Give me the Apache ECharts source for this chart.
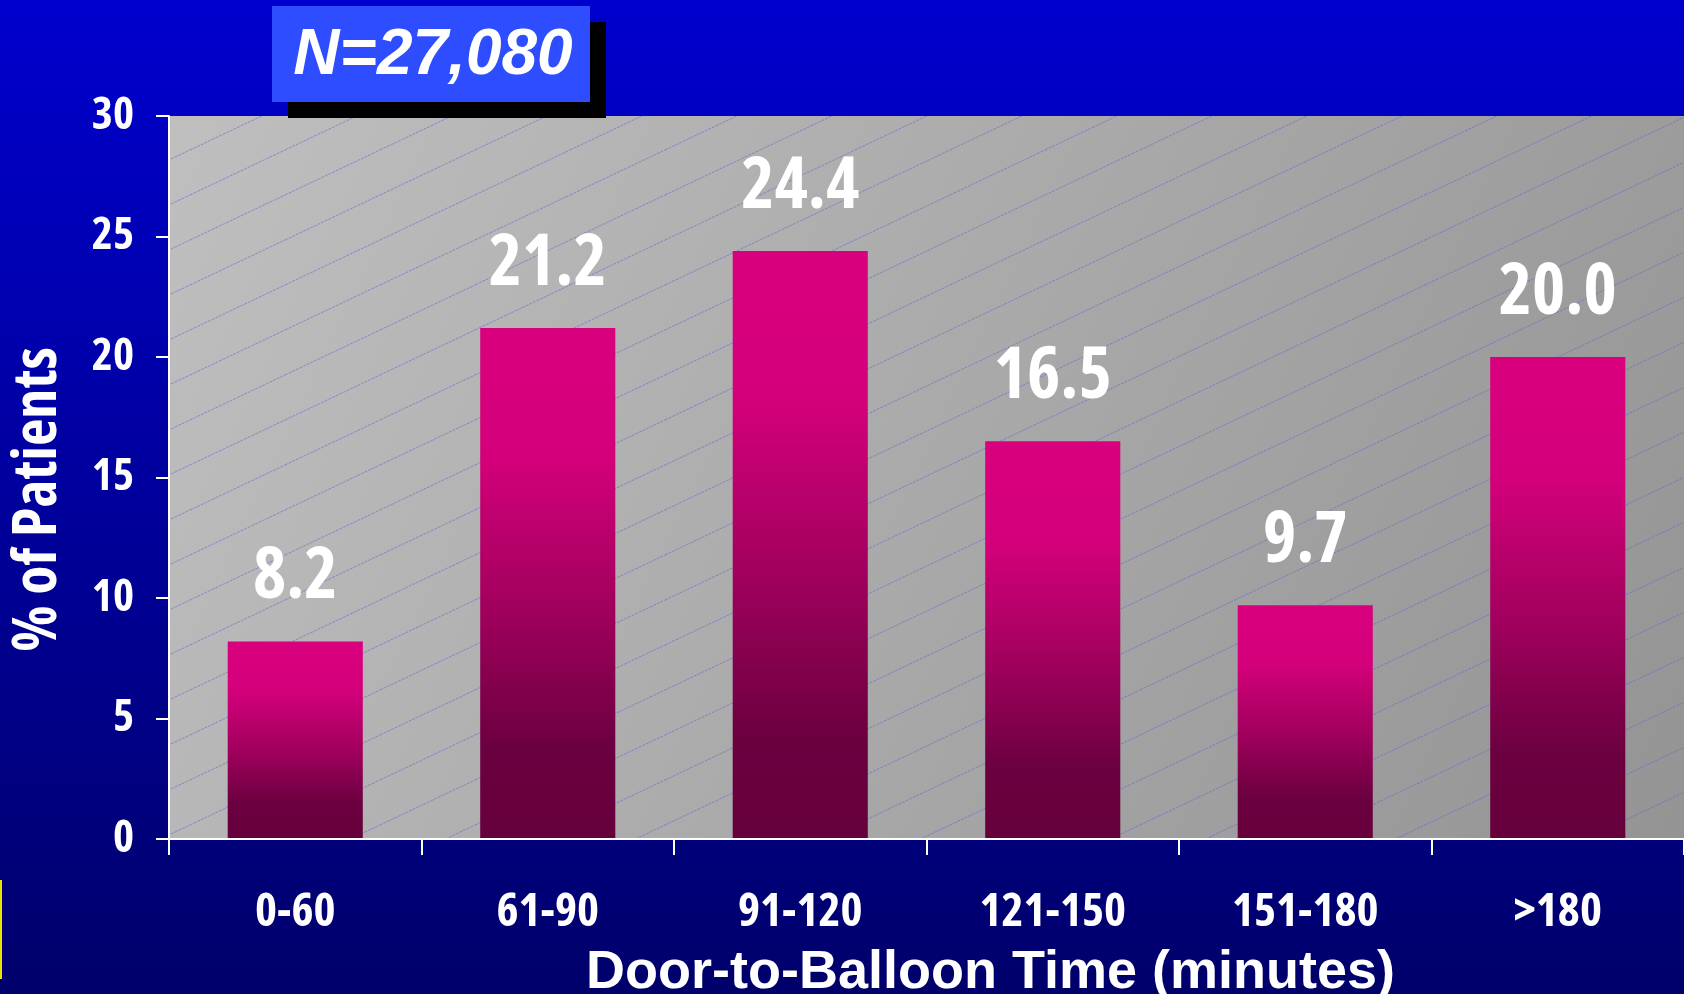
<!DOCTYPE html>
<html>
<head>
<meta charset="utf-8">
<title>Door-to-Balloon Time</title>
<style>
  html, body { margin: 0; padding: 0; background: #00009c; }
  #chart { width: 1684px; height: 994px; }
</style>
<script src="https://cdn.jsdelivr.net/npm/echarts@6/dist/echarts.min.js"></script>
</head>
<body>
<div id="chart"></div>
<script>
// Share of patients by door-to-balloon time band
const categories = ['0-60', '61-90', '91-120', '121-150', '151-180', '>180'];
const patientShare = [8.2, 21.2, 24.4, 16.5, 9.7, 20.0];
const yMin = 0;
const yMax = 30;
const yStep = 5;
const sampleLabel = 'N=27,080';
const xTitle = 'Door-to-Balloon Time (minutes)';
const yTitle = '% of Patients';

// Plot rectangle in pixels
const W = 1684, H = 994;
const plot = { left: 169, top: 116, right: 0, bottom: 155 };
const plotW = W - plot.left - plot.right;
const plotH = H - plot.top - plot.bottom;

const wide = '"Liberation Sans", Arial, Helvetica, sans-serif';

// Pick the narrowest-looking bold face available for the condensed labels.
// Target proportions are those of a narrow grotesque (about 3.0 em for "121-150").
function pickCondensed() {
  const ctx = document.createElement('canvas').getContext('2d');
  const sample = '121-150';
  const target = 3.01;
  const candidates = [
    { weight: 'bold', family: '"Liberation Sans Narrow"' },
    { weight: 'bold', family: '"Arial Narrow"' },
    { weight: 'bold condensed', family: '"Noto Sans"' },
    { weight: 'bold condensed', family: '"Open Sans"' },
    { weight: 'bold condensed', family: 'Inter' },
    { weight: 'bold condensed', family: 'Roboto' },
    { weight: 'bold', family: '"DejaVu Sans Condensed"' },
    { weight: 'bold', family: '"Liberation Sans"' }
  ];
  let best = candidates[candidates.length - 1];
  let bestRatio = 3.67;
  let bestErr = Infinity;
  candidates.forEach(function (c) {
    ctx.font = c.weight + ' 100px ' + c.family + ', monospace';
    const ratio = ctx.measureText(sample).width / 100;
    const err = Math.abs(ratio - target);
    if (err < bestErr - 0.02) { bestErr = err; best = c; bestRatio = ratio; }
  });
  // Shrink a little when the chosen face is wider than intended
  const k = bestRatio > target ? Math.sqrt(target / bestRatio) : 1;
  return { weight: best.weight, family: best.family + ', sans-serif', k: k };
}
const cond = pickCondensed();
const fs = function (px) { return Math.round(px * cond.k); };

// Thin diagonal hatching tile for the plot background
function hatchTile() {
  const tw = 95, th = 45, phase = 15;
  const c = document.createElement('canvas');
  c.width = tw; c.height = th;
  const ctx = c.getContext('2d');
  ctx.strokeStyle = 'rgba(100, 100, 215, 0.6)';
  ctx.lineWidth = 1;
  ctx.setLineDash([3, 1]);
  [0, th].forEach(function (k) {
    ctx.beginPath();
    ctx.moveTo(0, phase + k);
    ctx.lineTo(tw, phase + k - th);
    ctx.stroke();
  });
  return c;
}

const chart = echarts.init(document.getElementById('chart'), null, { renderer: 'canvas', width: W, height: H });

const option = {
  animation: false,
  backgroundColor: new echarts.graphic.LinearGradient(0, 0, 0, 1, [
    { offset: 0, color: '#0000ce' },
    { offset: 1, color: '#00006b' }
  ]),
  grid: {
    left: plot.left, top: plot.top, right: plot.right, bottom: plot.bottom,
    outerBoundsMode: 'none',
    containLabel: false,
    show: true,
    borderWidth: 0,
    backgroundColor: new echarts.graphic.LinearGradient(0, 0, 1, 1, [
      { offset: 0, color: '#bfbfbf' },
      { offset: 1, color: '#949494' }
    ])
  },
  graphic: [
    {
      type: 'rect',
      z: 1,
      silent: true,
      shape: { x: plot.left + 1, y: plot.top, width: plotW - 1, height: plotH - 1 },
      style: { fill: { image: hatchTile(), repeat: 'repeat' } }
    },
    {
      type: 'rect',
      z: 10,
      silent: true,
      shape: { x: 288, y: 22, width: 318, height: 96 },
      style: { fill: '#000000' }
    },
    {
      type: 'rect',
      z: 11,
      silent: true,
      shape: { x: 272, y: 6, width: 318, height: 96 },
      style: { fill: '#2d4dff' }
    },
    {
      type: 'text',
      z: 12,
      silent: true,
      x: 433, y: 56,
      style: {
        text: sampleLabel,
        fill: '#ffffff',
        font: 'italic bold 64px ' + wide,
        align: 'center',
        verticalAlign: 'middle'
      }
    },
    {
      type: 'rect',
      z: 12,
      silent: true,
      shape: { x: 0, y: 880, width: 2, height: 99 },
      style: { fill: '#e6e600' }
    }
  ],
  xAxis: {
    type: 'category',
    data: categories,
    z: 5,
    boundaryGap: true,
    axisLine: { show: true, lineStyle: { color: '#ffffff', width: 2 } },
    axisTick: { show: true, length: 16, lineStyle: { color: '#ffffff', width: 2 } },
    axisLabel: {
      color: '#ffffff',
      fontFamily: cond.family,
      fontWeight: cond.weight,
      fontSize: fs(48),
      margin: 50
    },
    splitLine: { show: false },
    name: xTitle,
    nameLocation: 'middle',
    nameGap: 107,
    nameTextStyle: {
      color: '#ffffff',
      fontFamily: wide,
      fontWeight: 'bold',
      fontSize: 54,
      padding: [0, 0, 0, 128]
    }
  },
  yAxis: {
    type: 'value',
    min: yMin,
    max: yMax,
    interval: yStep,
    z: 5,
    axisLine: { show: true, lineStyle: { color: '#ffffff', width: 2 } },
    axisTick: { show: true, length: 13, lineStyle: { color: '#ffffff', width: 2 } },
    axisLabel: {
      color: '#ffffff',
      fontFamily: cond.family,
      fontWeight: cond.weight,
      fontSize: fs(46),
      margin: 35
    },
    splitLine: { show: false },
    name: yTitle,
    nameLocation: 'middle',
    nameRotate: 90,
    nameGap: 100,
    nameTextStyle: {
      color: '#ffffff',
      fontFamily: cond.family,
      fontWeight: cond.weight,
      fontSize: fs(61),
      padding: [0, 44, 0, 0]
    }
  },
  series: [{
    type: 'bar',
    data: patientShare,
    barWidth: '53.5%',
    z: 2,
    itemStyle: {
      color: new echarts.graphic.LinearGradient(0, 0, 0, 1, [
        { offset: 0, color: '#d9007e' },
        { offset: 0.25, color: '#d4007b' },
        { offset: 0.55, color: '#a1005d' },
        { offset: 0.82, color: '#6c0040' },
        { offset: 1, color: '#66003b' }
      ])
    },
    label: {
      show: true,
      position: 'top',
      distance: 28,
      color: '#ffffff',
      fontFamily: cond.family,
      fontWeight: cond.weight,
      fontSize: fs(72),
      formatter: function (p) { return p.value.toFixed(1); }
    }
  }]
};

chart.setOption(option);
</script>
</body>
</html>
